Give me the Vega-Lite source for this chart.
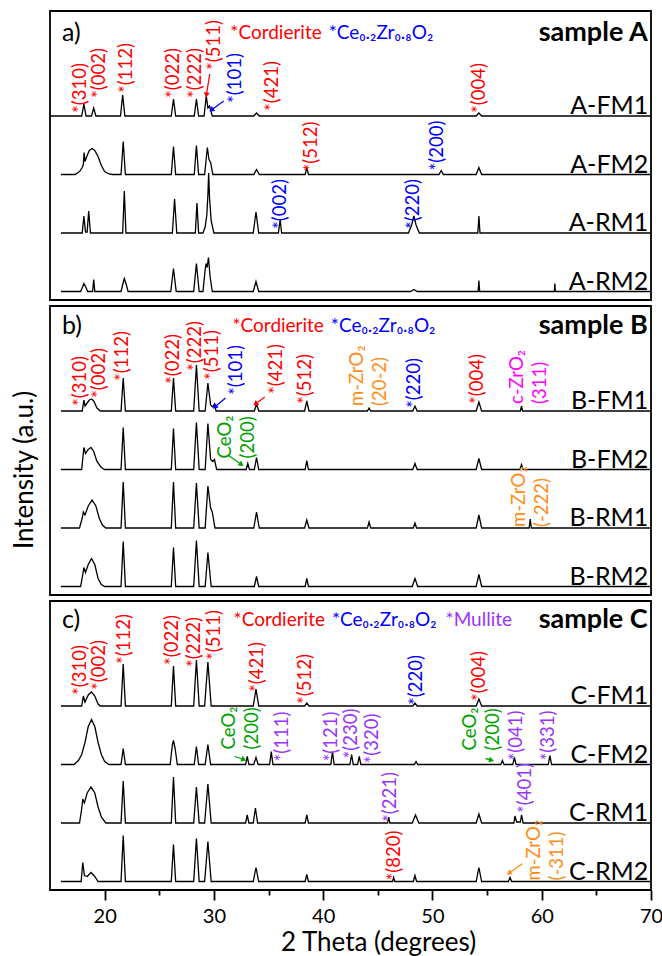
{
"$schema":"https://vega.github.io/schema/vega-lite/v6.json",
"background":"white",
"padding":{"left":10,"top":10,"right":5,"bottom":5},
"config":{"view":{"stroke":"black","strokeWidth":1.8},"font":"Lato"},
"datasets":{
"spectra":[
{"p":"A","r":"FM1","x":15,"i":0},{"p":"A","r":"FM1","x":17.9,"i":0},{"p":"A","r":"FM1","x":18.1,"i":12},{"p":"A","r":"FM1","x":18.3,"i":0},{"p":"A","r":"FM1","x":18.8,"i":0},{"p":"A","r":"FM1","x":19.0,"i":8},{"p":"A","r":"FM1","x":19.2,"i":0},{"p":"A","r":"FM1","x":21.45,"i":0},{"p":"A","r":"FM1","x":21.65,"i":21},{"p":"A","r":"FM1","x":21.85,"i":0},{"p":"A","r":"FM1","x":26.1,"i":0},{"p":"A","r":"FM1","x":26.3,"i":17},{"p":"A","r":"FM1","x":26.5,"i":0},{"p":"A","r":"FM1","x":28.2,"i":0},{"p":"A","r":"FM1","x":28.4,"i":17},{"p":"A","r":"FM1","x":28.6,"i":0},{"p":"A","r":"FM1","x":29.1,"i":0},{"p":"A","r":"FM1","x":29.3,"i":20},{"p":"A","r":"FM1","x":29.45,"i":8},{"p":"A","r":"FM1","x":29.6,"i":10},{"p":"A","r":"FM1","x":29.85,"i":0},{"p":"A","r":"FM1","x":33.65,"i":0},{"p":"A","r":"FM1","x":33.9,"i":3},{"p":"A","r":"FM1","x":34.15,"i":0},{"p":"A","r":"FM1","x":54.0,"i":0},{"p":"A","r":"FM1","x":54.25,"i":3},{"p":"A","r":"FM1","x":54.5,"i":0},{"p":"A","r":"FM1","x":70,"i":0},
{"p":"A","r":"FM2","x":16,"i":0},{"p":"A","r":"FM2","x":17.3,"i":0},{"p":"A","r":"FM2","x":17.7,"i":3},{"p":"A","r":"FM2","x":17.95,"i":7},{"p":"A","r":"FM2","x":18.05,"i":10},{"p":"A","r":"FM2","x":18.12,"i":22},{"p":"A","r":"FM2","x":18.2,"i":13},{"p":"A","r":"FM2","x":18.4,"i":19},{"p":"A","r":"FM2","x":18.6,"i":24},{"p":"A","r":"FM2","x":18.85,"i":26},{"p":"A","r":"FM2","x":19.1,"i":24},{"p":"A","r":"FM2","x":19.4,"i":18},{"p":"A","r":"FM2","x":19.7,"i":9},{"p":"A","r":"FM2","x":20.0,"i":3},{"p":"A","r":"FM2","x":20.4,"i":0.5},{"p":"A","r":"FM2","x":20.7,"i":0},{"p":"A","r":"FM2","x":21.5,"i":0},{"p":"A","r":"FM2","x":21.7,"i":33},{"p":"A","r":"FM2","x":21.9,"i":0},{"p":"A","r":"FM2","x":26.1,"i":0},{"p":"A","r":"FM2","x":26.3,"i":28},{"p":"A","r":"FM2","x":26.5,"i":0},{"p":"A","r":"FM2","x":28.2,"i":0},{"p":"A","r":"FM2","x":28.4,"i":29},{"p":"A","r":"FM2","x":28.6,"i":0},{"p":"A","r":"FM2","x":29.15,"i":0},{"p":"A","r":"FM2","x":29.4,"i":27},{"p":"A","r":"FM2","x":29.55,"i":15},{"p":"A","r":"FM2","x":29.7,"i":12},{"p":"A","r":"FM2","x":29.9,"i":0},{"p":"A","r":"FM2","x":33.65,"i":0},{"p":"A","r":"FM2","x":33.9,"i":5},{"p":"A","r":"FM2","x":34.15,"i":0},{"p":"A","r":"FM2","x":38.35,"i":0},{"p":"A","r":"FM2","x":38.5,"i":7},{"p":"A","r":"FM2","x":38.65,"i":0},{"p":"A","r":"FM2","x":50.6,"i":0},{"p":"A","r":"FM2","x":50.8,"i":4},{"p":"A","r":"FM2","x":51.0,"i":0},{"p":"A","r":"FM2","x":54.0,"i":0},{"p":"A","r":"FM2","x":54.25,"i":7},{"p":"A","r":"FM2","x":54.5,"i":0},{"p":"A","r":"FM2","x":70,"i":0},
{"p":"A","r":"RM1","x":16,"i":0},{"p":"A","r":"RM1","x":17.95,"i":0},{"p":"A","r":"RM1","x":18.1,"i":17},{"p":"A","r":"RM1","x":18.25,"i":1},{"p":"A","r":"RM1","x":18.4,"i":1},{"p":"A","r":"RM1","x":18.54,"i":22},{"p":"A","r":"RM1","x":18.7,"i":0},{"p":"A","r":"RM1","x":21.65,"i":0},{"p":"A","r":"RM1","x":21.8,"i":42},{"p":"A","r":"RM1","x":21.95,"i":0},{"p":"A","r":"RM1","x":26.2,"i":0},{"p":"A","r":"RM1","x":26.4,"i":34},{"p":"A","r":"RM1","x":26.6,"i":0},{"p":"A","r":"RM1","x":28.3,"i":0},{"p":"A","r":"RM1","x":28.45,"i":30},{"p":"A","r":"RM1","x":28.6,"i":0},{"p":"A","r":"RM1","x":29.0,"i":0},{"p":"A","r":"RM1","x":29.2,"i":6},{"p":"A","r":"RM1","x":29.35,"i":18},{"p":"A","r":"RM1","x":29.45,"i":38},{"p":"A","r":"RM1","x":29.52,"i":60},{"p":"A","r":"RM1","x":29.6,"i":35},{"p":"A","r":"RM1","x":29.75,"i":12},{"p":"A","r":"RM1","x":30.0,"i":0},{"p":"A","r":"RM1","x":33.6,"i":0},{"p":"A","r":"RM1","x":33.85,"i":21},{"p":"A","r":"RM1","x":34.1,"i":0},{"p":"A","r":"RM1","x":35.9,"i":0},{"p":"A","r":"RM1","x":36.06,"i":13},{"p":"A","r":"RM1","x":36.2,"i":0},{"p":"A","r":"RM1","x":47.8,"i":0},{"p":"A","r":"RM1","x":48.1,"i":8},{"p":"A","r":"RM1","x":48.3,"i":17},{"p":"A","r":"RM1","x":48.5,"i":8},{"p":"A","r":"RM1","x":48.8,"i":0},{"p":"A","r":"RM1","x":54.15,"i":0},{"p":"A","r":"RM1","x":54.25,"i":17},{"p":"A","r":"RM1","x":54.35,"i":0},{"p":"A","r":"RM1","x":70,"i":0},
{"p":"A","r":"RM2","x":16,"i":0},{"p":"A","r":"RM2","x":17.8,"i":0},{"p":"A","r":"RM2","x":18.0,"i":5},{"p":"A","r":"RM2","x":18.1,"i":8},{"p":"A","r":"RM2","x":18.25,"i":5},{"p":"A","r":"RM2","x":18.45,"i":0},{"p":"A","r":"RM2","x":18.9,"i":0},{"p":"A","r":"RM2","x":19.0,"i":12},{"p":"A","r":"RM2","x":19.1,"i":0},{"p":"A","r":"RM2","x":21.5,"i":0},{"p":"A","r":"RM2","x":21.7,"i":9},{"p":"A","r":"RM2","x":21.8,"i":13},{"p":"A","r":"RM2","x":21.95,"i":8},{"p":"A","r":"RM2","x":22.15,"i":0},{"p":"A","r":"RM2","x":26.05,"i":0},{"p":"A","r":"RM2","x":26.3,"i":23},{"p":"A","r":"RM2","x":26.55,"i":0},{"p":"A","r":"RM2","x":28.15,"i":0},{"p":"A","r":"RM2","x":28.4,"i":28},{"p":"A","r":"RM2","x":28.65,"i":0},{"p":"A","r":"RM2","x":29.0,"i":0},{"p":"A","r":"RM2","x":29.2,"i":22},{"p":"A","r":"RM2","x":29.28,"i":28},{"p":"A","r":"RM2","x":29.38,"i":24},{"p":"A","r":"RM2","x":29.5,"i":34},{"p":"A","r":"RM2","x":29.65,"i":15},{"p":"A","r":"RM2","x":29.85,"i":0},{"p":"A","r":"RM2","x":33.6,"i":0},{"p":"A","r":"RM2","x":33.85,"i":10},{"p":"A","r":"RM2","x":34.1,"i":0},{"p":"A","r":"RM2","x":48.0,"i":0},{"p":"A","r":"RM2","x":48.3,"i":2},{"p":"A","r":"RM2","x":48.6,"i":0},{"p":"A","r":"RM2","x":54.18,"i":0},{"p":"A","r":"RM2","x":54.25,"i":11},{"p":"A","r":"RM2","x":54.32,"i":0},{"p":"A","r":"RM2","x":61.15,"i":0},{"p":"A","r":"RM2","x":61.2,"i":8},{"p":"A","r":"RM2","x":61.25,"i":0},{"p":"A","r":"RM2","x":70,"i":0},
{"p":"B","r":"FM1","x":16,"i":0},{"p":"B","r":"FM1","x":17.95,"i":0},{"p":"B","r":"FM1","x":18.1,"i":11},{"p":"B","r":"FM1","x":18.2,"i":5},{"p":"B","r":"FM1","x":18.4,"i":8},{"p":"B","r":"FM1","x":18.6,"i":11},{"p":"B","r":"FM1","x":18.8,"i":12},{"p":"B","r":"FM1","x":19.0,"i":10},{"p":"B","r":"FM1","x":19.3,"i":3},{"p":"B","r":"FM1","x":19.6,"i":0},{"p":"B","r":"FM1","x":21.5,"i":0},{"p":"B","r":"FM1","x":21.7,"i":33},{"p":"B","r":"FM1","x":21.9,"i":0},{"p":"B","r":"FM1","x":26.1,"i":0},{"p":"B","r":"FM1","x":26.3,"i":33},{"p":"B","r":"FM1","x":26.5,"i":0},{"p":"B","r":"FM1","x":28.15,"i":0},{"p":"B","r":"FM1","x":28.4,"i":46},{"p":"B","r":"FM1","x":28.65,"i":0},{"p":"B","r":"FM1","x":29.2,"i":0},{"p":"B","r":"FM1","x":29.45,"i":28},{"p":"B","r":"FM1","x":29.7,"i":6},{"p":"B","r":"FM1","x":29.9,"i":4},{"p":"B","r":"FM1","x":30.05,"i":7},{"p":"B","r":"FM1","x":30.2,"i":0},{"p":"B","r":"FM1","x":33.7,"i":0},{"p":"B","r":"FM1","x":33.9,"i":7},{"p":"B","r":"FM1","x":34.1,"i":0},{"p":"B","r":"FM1","x":38.3,"i":0},{"p":"B","r":"FM1","x":38.5,"i":10},{"p":"B","r":"FM1","x":38.7,"i":0},{"p":"B","r":"FM1","x":44.05,"i":0},{"p":"B","r":"FM1","x":44.2,"i":3},{"p":"B","r":"FM1","x":44.35,"i":0},{"p":"B","r":"FM1","x":48.2,"i":0},{"p":"B","r":"FM1","x":48.4,"i":5},{"p":"B","r":"FM1","x":48.6,"i":0},{"p":"B","r":"FM1","x":54.0,"i":0},{"p":"B","r":"FM1","x":54.25,"i":9},{"p":"B","r":"FM1","x":54.5,"i":0},{"p":"B","r":"FM1","x":58.05,"i":0},{"p":"B","r":"FM1","x":58.15,"i":5},{"p":"B","r":"FM1","x":58.25,"i":0},{"p":"B","r":"FM1","x":70,"i":0},
{"p":"B","r":"FM2","x":16,"i":0},{"p":"B","r":"FM2","x":17.9,"i":0},{"p":"B","r":"FM2","x":18.1,"i":22},{"p":"B","r":"FM2","x":18.25,"i":16},{"p":"B","r":"FM2","x":18.5,"i":20},{"p":"B","r":"FM2","x":18.75,"i":22},{"p":"B","r":"FM2","x":19.0,"i":18},{"p":"B","r":"FM2","x":19.3,"i":8},{"p":"B","r":"FM2","x":19.7,"i":2},{"p":"B","r":"FM2","x":20.0,"i":0},{"p":"B","r":"FM2","x":21.5,"i":0},{"p":"B","r":"FM2","x":21.7,"i":42},{"p":"B","r":"FM2","x":21.9,"i":0},{"p":"B","r":"FM2","x":26.1,"i":0},{"p":"B","r":"FM2","x":26.3,"i":41},{"p":"B","r":"FM2","x":26.5,"i":0},{"p":"B","r":"FM2","x":28.15,"i":0},{"p":"B","r":"FM2","x":28.4,"i":47},{"p":"B","r":"FM2","x":28.65,"i":0},{"p":"B","r":"FM2","x":29.2,"i":0},{"p":"B","r":"FM2","x":29.45,"i":46},{"p":"B","r":"FM2","x":29.7,"i":10},{"p":"B","r":"FM2","x":29.9,"i":8},{"p":"B","r":"FM2","x":30.05,"i":10},{"p":"B","r":"FM2","x":30.25,"i":0},{"p":"B","r":"FM2","x":32.95,"i":0},{"p":"B","r":"FM2","x":33.1,"i":6},{"p":"B","r":"FM2","x":33.25,"i":0},{"p":"B","r":"FM2","x":33.7,"i":0},{"p":"B","r":"FM2","x":33.9,"i":12},{"p":"B","r":"FM2","x":34.1,"i":0},{"p":"B","r":"FM2","x":38.35,"i":0},{"p":"B","r":"FM2","x":38.5,"i":9},{"p":"B","r":"FM2","x":38.65,"i":0},{"p":"B","r":"FM2","x":48.2,"i":0},{"p":"B","r":"FM2","x":48.4,"i":6},{"p":"B","r":"FM2","x":48.6,"i":0},{"p":"B","r":"FM2","x":54.0,"i":0},{"p":"B","r":"FM2","x":54.25,"i":11},{"p":"B","r":"FM2","x":54.5,"i":0},{"p":"B","r":"FM2","x":58.0,"i":0},{"p":"B","r":"FM2","x":58.15,"i":5},{"p":"B","r":"FM2","x":58.3,"i":0},{"p":"B","r":"FM2","x":70,"i":0},
{"p":"B","r":"RM1","x":16,"i":0},{"p":"B","r":"RM1","x":17.7,"i":0},{"p":"B","r":"RM1","x":17.95,"i":10},{"p":"B","r":"RM1","x":18.05,"i":16},{"p":"B","r":"RM1","x":18.2,"i":13},{"p":"B","r":"RM1","x":18.5,"i":22},{"p":"B","r":"RM1","x":18.85,"i":28},{"p":"B","r":"RM1","x":19.2,"i":22},{"p":"B","r":"RM1","x":19.5,"i":10},{"p":"B","r":"RM1","x":19.8,"i":3},{"p":"B","r":"RM1","x":20.1,"i":0},{"p":"B","r":"RM1","x":21.5,"i":0},{"p":"B","r":"RM1","x":21.7,"i":46},{"p":"B","r":"RM1","x":21.9,"i":0},{"p":"B","r":"RM1","x":26.1,"i":0},{"p":"B","r":"RM1","x":26.3,"i":46},{"p":"B","r":"RM1","x":26.5,"i":0},{"p":"B","r":"RM1","x":28.15,"i":0},{"p":"B","r":"RM1","x":28.4,"i":45},{"p":"B","r":"RM1","x":28.65,"i":0},{"p":"B","r":"RM1","x":29.2,"i":0},{"p":"B","r":"RM1","x":29.45,"i":42},{"p":"B","r":"RM1","x":29.7,"i":20},{"p":"B","r":"RM1","x":29.85,"i":16},{"p":"B","r":"RM1","x":30.1,"i":0},{"p":"B","r":"RM1","x":33.65,"i":0},{"p":"B","r":"RM1","x":33.9,"i":16},{"p":"B","r":"RM1","x":34.15,"i":0},{"p":"B","r":"RM1","x":38.3,"i":0},{"p":"B","r":"RM1","x":38.5,"i":8},{"p":"B","r":"RM1","x":38.7,"i":0},{"p":"B","r":"RM1","x":44.05,"i":0},{"p":"B","r":"RM1","x":44.2,"i":6},{"p":"B","r":"RM1","x":44.35,"i":0},{"p":"B","r":"RM1","x":48.25,"i":0},{"p":"B","r":"RM1","x":48.4,"i":5},{"p":"B","r":"RM1","x":48.55,"i":0},{"p":"B","r":"RM1","x":54.0,"i":0},{"p":"B","r":"RM1","x":54.25,"i":13},{"p":"B","r":"RM1","x":54.5,"i":0},{"p":"B","r":"RM1","x":58.85,"i":0},{"p":"B","r":"RM1","x":58.95,"i":9},{"p":"B","r":"RM1","x":59.05,"i":0},{"p":"B","r":"RM1","x":70,"i":0},
{"p":"B","r":"RM2","x":16,"i":0},{"p":"B","r":"RM2","x":17.8,"i":0},{"p":"B","r":"RM2","x":18.0,"i":12},{"p":"B","r":"RM2","x":18.1,"i":19},{"p":"B","r":"RM2","x":18.25,"i":14},{"p":"B","r":"RM2","x":18.5,"i":22},{"p":"B","r":"RM2","x":18.8,"i":28},{"p":"B","r":"RM2","x":19.1,"i":22},{"p":"B","r":"RM2","x":19.4,"i":8},{"p":"B","r":"RM2","x":19.7,"i":2},{"p":"B","r":"RM2","x":20.0,"i":0},{"p":"B","r":"RM2","x":21.5,"i":0},{"p":"B","r":"RM2","x":21.7,"i":45},{"p":"B","r":"RM2","x":21.9,"i":0},{"p":"B","r":"RM2","x":26.1,"i":0},{"p":"B","r":"RM2","x":26.3,"i":39},{"p":"B","r":"RM2","x":26.5,"i":0},{"p":"B","r":"RM2","x":28.15,"i":0},{"p":"B","r":"RM2","x":28.4,"i":46},{"p":"B","r":"RM2","x":28.65,"i":0},{"p":"B","r":"RM2","x":29.2,"i":0},{"p":"B","r":"RM2","x":29.45,"i":34},{"p":"B","r":"RM2","x":29.75,"i":0},{"p":"B","r":"RM2","x":33.7,"i":0},{"p":"B","r":"RM2","x":33.9,"i":10},{"p":"B","r":"RM2","x":34.1,"i":0},{"p":"B","r":"RM2","x":38.35,"i":0},{"p":"B","r":"RM2","x":38.5,"i":8},{"p":"B","r":"RM2","x":38.65,"i":0},{"p":"B","r":"RM2","x":48.15,"i":0},{"p":"B","r":"RM2","x":48.4,"i":8},{"p":"B","r":"RM2","x":48.65,"i":0},{"p":"B","r":"RM2","x":54.0,"i":0},{"p":"B","r":"RM2","x":54.25,"i":12},{"p":"B","r":"RM2","x":54.5,"i":0},{"p":"B","r":"RM2","x":70,"i":0},
{"p":"C","r":"FM1","x":16,"i":0},{"p":"C","r":"FM1","x":17.9,"i":0},{"p":"C","r":"FM1","x":18.05,"i":10},{"p":"C","r":"FM1","x":18.2,"i":4},{"p":"C","r":"FM1","x":18.5,"i":11},{"p":"C","r":"FM1","x":18.8,"i":14},{"p":"C","r":"FM1","x":19.1,"i":10},{"p":"C","r":"FM1","x":19.4,"i":2},{"p":"C","r":"FM1","x":19.6,"i":0},{"p":"C","r":"FM1","x":21.5,"i":0},{"p":"C","r":"FM1","x":21.7,"i":42},{"p":"C","r":"FM1","x":21.9,"i":0},{"p":"C","r":"FM1","x":26.1,"i":0},{"p":"C","r":"FM1","x":26.3,"i":40},{"p":"C","r":"FM1","x":26.5,"i":0},{"p":"C","r":"FM1","x":28.15,"i":0},{"p":"C","r":"FM1","x":28.4,"i":46},{"p":"C","r":"FM1","x":28.65,"i":0},{"p":"C","r":"FM1","x":29.15,"i":0},{"p":"C","r":"FM1","x":29.45,"i":44},{"p":"C","r":"FM1","x":29.75,"i":0},{"p":"C","r":"FM1","x":33.6,"i":0},{"p":"C","r":"FM1","x":33.85,"i":17},{"p":"C","r":"FM1","x":34.1,"i":0},{"p":"C","r":"FM1","x":38.3,"i":0},{"p":"C","r":"FM1","x":38.5,"i":3},{"p":"C","r":"FM1","x":38.7,"i":0},{"p":"C","r":"FM1","x":48.2,"i":0},{"p":"C","r":"FM1","x":48.4,"i":3},{"p":"C","r":"FM1","x":48.6,"i":0},{"p":"C","r":"FM1","x":54.0,"i":0},{"p":"C","r":"FM1","x":54.25,"i":7},{"p":"C","r":"FM1","x":54.5,"i":0},{"p":"C","r":"FM1","x":70,"i":0},
{"p":"C","r":"FM2","x":16,"i":0},{"p":"C","r":"FM2","x":17.2,"i":0},{"p":"C","r":"FM2","x":17.6,"i":4},{"p":"C","r":"FM2","x":17.9,"i":10},{"p":"C","r":"FM2","x":18.2,"i":22},{"p":"C","r":"FM2","x":18.5,"i":38},{"p":"C","r":"FM2","x":18.8,"i":45},{"p":"C","r":"FM2","x":19.1,"i":38},{"p":"C","r":"FM2","x":19.4,"i":22},{"p":"C","r":"FM2","x":19.7,"i":10},{"p":"C","r":"FM2","x":20.0,"i":3},{"p":"C","r":"FM2","x":20.4,"i":0},{"p":"C","r":"FM2","x":21.5,"i":0},{"p":"C","r":"FM2","x":21.7,"i":16},{"p":"C","r":"FM2","x":21.9,"i":0},{"p":"C","r":"FM2","x":26.0,"i":0},{"p":"C","r":"FM2","x":26.2,"i":20},{"p":"C","r":"FM2","x":26.3,"i":24},{"p":"C","r":"FM2","x":26.45,"i":16},{"p":"C","r":"FM2","x":26.65,"i":0},{"p":"C","r":"FM2","x":28.2,"i":0},{"p":"C","r":"FM2","x":28.4,"i":18},{"p":"C","r":"FM2","x":28.6,"i":0},{"p":"C","r":"FM2","x":29.2,"i":0},{"p":"C","r":"FM2","x":29.45,"i":20},{"p":"C","r":"FM2","x":29.7,"i":0},{"p":"C","r":"FM2","x":32.9,"i":0},{"p":"C","r":"FM2","x":33.05,"i":8},{"p":"C","r":"FM2","x":33.2,"i":0},{"p":"C","r":"FM2","x":33.65,"i":0},{"p":"C","r":"FM2","x":33.85,"i":7},{"p":"C","r":"FM2","x":34.05,"i":0},{"p":"C","r":"FM2","x":35.1,"i":0},{"p":"C","r":"FM2","x":35.25,"i":13},{"p":"C","r":"FM2","x":35.4,"i":0},{"p":"C","r":"FM2","x":40.7,"i":0},{"p":"C","r":"FM2","x":40.85,"i":13},{"p":"C","r":"FM2","x":41.0,"i":0},{"p":"C","r":"FM2","x":42.45,"i":0},{"p":"C","r":"FM2","x":42.6,"i":10},{"p":"C","r":"FM2","x":42.75,"i":0},{"p":"C","r":"FM2","x":43.15,"i":0},{"p":"C","r":"FM2","x":43.3,"i":8},{"p":"C","r":"FM2","x":43.45,"i":0},{"p":"C","r":"FM2","x":48.35,"i":0},{"p":"C","r":"FM2","x":48.5,"i":3},{"p":"C","r":"FM2","x":48.65,"i":0},{"p":"C","r":"FM2","x":56.25,"i":0},{"p":"C","r":"FM2","x":56.4,"i":4},{"p":"C","r":"FM2","x":56.55,"i":0},{"p":"C","r":"FM2","x":57.35,"i":0},{"p":"C","r":"FM2","x":57.5,"i":7},{"p":"C","r":"FM2","x":57.65,"i":0},{"p":"C","r":"FM2","x":60.6,"i":0},{"p":"C","r":"FM2","x":60.75,"i":9},{"p":"C","r":"FM2","x":60.9,"i":0},{"p":"C","r":"FM2","x":70,"i":0},
{"p":"C","r":"RM1","x":16,"i":0},{"p":"C","r":"RM1","x":17.7,"i":0},{"p":"C","r":"RM1","x":17.9,"i":14},{"p":"C","r":"RM1","x":18.0,"i":24},{"p":"C","r":"RM1","x":18.15,"i":20},{"p":"C","r":"RM1","x":18.4,"i":30},{"p":"C","r":"RM1","x":18.75,"i":36},{"p":"C","r":"RM1","x":19.1,"i":30},{"p":"C","r":"RM1","x":19.4,"i":16},{"p":"C","r":"RM1","x":19.7,"i":6},{"p":"C","r":"RM1","x":20.1,"i":0},{"p":"C","r":"RM1","x":21.5,"i":0},{"p":"C","r":"RM1","x":21.7,"i":42},{"p":"C","r":"RM1","x":21.9,"i":0},{"p":"C","r":"RM1","x":26.1,"i":0},{"p":"C","r":"RM1","x":26.3,"i":46},{"p":"C","r":"RM1","x":26.5,"i":0},{"p":"C","r":"RM1","x":28.15,"i":0},{"p":"C","r":"RM1","x":28.4,"i":36},{"p":"C","r":"RM1","x":28.65,"i":0},{"p":"C","r":"RM1","x":29.15,"i":0},{"p":"C","r":"RM1","x":29.45,"i":39},{"p":"C","r":"RM1","x":29.75,"i":0},{"p":"C","r":"RM1","x":32.9,"i":0},{"p":"C","r":"RM1","x":33.05,"i":8},{"p":"C","r":"RM1","x":33.2,"i":0},{"p":"C","r":"RM1","x":33.6,"i":0},{"p":"C","r":"RM1","x":33.8,"i":15},{"p":"C","r":"RM1","x":34.0,"i":0},{"p":"C","r":"RM1","x":38.35,"i":0},{"p":"C","r":"RM1","x":38.5,"i":8},{"p":"C","r":"RM1","x":38.65,"i":0},{"p":"C","r":"RM1","x":45.9,"i":0},{"p":"C","r":"RM1","x":46.0,"i":6},{"p":"C","r":"RM1","x":46.1,"i":0},{"p":"C","r":"RM1","x":48.15,"i":0},{"p":"C","r":"RM1","x":48.45,"i":8},{"p":"C","r":"RM1","x":48.75,"i":0},{"p":"C","r":"RM1","x":54.0,"i":0},{"p":"C","r":"RM1","x":54.25,"i":9},{"p":"C","r":"RM1","x":54.5,"i":0},{"p":"C","r":"RM1","x":57.45,"i":0},{"p":"C","r":"RM1","x":57.55,"i":7},{"p":"C","r":"RM1","x":57.7,"i":1},{"p":"C","r":"RM1","x":58.05,"i":1},{"p":"C","r":"RM1","x":58.15,"i":8},{"p":"C","r":"RM1","x":58.3,"i":0},{"p":"C","r":"RM1","x":70,"i":0},
{"p":"C","r":"RM2","x":16,"i":0},{"p":"C","r":"RM2","x":17.85,"i":0},{"p":"C","r":"RM2","x":18.0,"i":19},{"p":"C","r":"RM2","x":18.15,"i":6},{"p":"C","r":"RM2","x":18.4,"i":5},{"p":"C","r":"RM2","x":18.75,"i":9},{"p":"C","r":"RM2","x":19.1,"i":5},{"p":"C","r":"RM2","x":19.4,"i":0},{"p":"C","r":"RM2","x":21.5,"i":0},{"p":"C","r":"RM2","x":21.7,"i":46},{"p":"C","r":"RM2","x":21.9,"i":0},{"p":"C","r":"RM2","x":26.1,"i":0},{"p":"C","r":"RM2","x":26.3,"i":37},{"p":"C","r":"RM2","x":26.5,"i":0},{"p":"C","r":"RM2","x":28.15,"i":0},{"p":"C","r":"RM2","x":28.4,"i":43},{"p":"C","r":"RM2","x":28.65,"i":0},{"p":"C","r":"RM2","x":29.15,"i":0},{"p":"C","r":"RM2","x":29.45,"i":40},{"p":"C","r":"RM2","x":29.75,"i":0},{"p":"C","r":"RM2","x":33.6,"i":0},{"p":"C","r":"RM2","x":33.85,"i":14},{"p":"C","r":"RM2","x":34.1,"i":0},{"p":"C","r":"RM2","x":38.35,"i":0},{"p":"C","r":"RM2","x":38.5,"i":7},{"p":"C","r":"RM2","x":38.65,"i":0},{"p":"C","r":"RM2","x":46.35,"i":0},{"p":"C","r":"RM2","x":46.45,"i":4},{"p":"C","r":"RM2","x":46.55,"i":0},{"p":"C","r":"RM2","x":48.25,"i":0},{"p":"C","r":"RM2","x":48.4,"i":6},{"p":"C","r":"RM2","x":48.55,"i":0},{"p":"C","r":"RM2","x":54.0,"i":0},{"p":"C","r":"RM2","x":54.25,"i":14},{"p":"C","r":"RM2","x":54.5,"i":0},{"p":"C","r":"RM2","x":56.95,"i":0},{"p":"C","r":"RM2","x":57.1,"i":4},{"p":"C","r":"RM2","x":57.25,"i":0},{"p":"C","r":"RM2","x":70,"i":0}
],
"labels":[
{"p":"A","r":"FM1","x":17.7,"i":3,"t":"*(310)","c":"Cordierite"},
{"p":"A","r":"FM1","x":19.5,"i":18,"t":"*(002)","c":"Cordierite"},
{"p":"A","r":"FM1","x":21.96,"i":23,"t":"*(112)","c":"Cordierite"},
{"p":"A","r":"FM1","x":26.26,"i":18,"t":"*(022)","c":"Cordierite"},
{"p":"A","r":"FM1","x":28.25,"i":18,"t":"*(222)","c":"Cordierite"},
{"p":"A","r":"FM1","x":29.99,"i":46,"t":"*(511)","c":"Cordierite"},
{"p":"A","r":"FM1","x":31.97,"i":13,"t":"*(101)","c":"CeZr"},
{"p":"A","r":"FM1","x":35.33,"i":5,"t":"*(421)","c":"Cordierite"},
{"p":"A","r":"FM1","x":54.26,"i":3,"t":"*(004)","c":"Cordierite"},
{"p":"A","r":"FM2","x":38.9,"i":3,"t":"*(512)","c":"Cordierite"},
{"p":"A","r":"FM2","x":50.44,"i":4,"t":"*(200)","c":"CeZr"},
{"p":"A","r":"RM1","x":36.09,"i":4,"t":"*(002)","c":"CeZr"},
{"p":"A","r":"RM1","x":48.21,"i":4,"t":"*(220)","c":"CeZr"},
{"p":"B","r":"FM1","x":17.7,"i":5,"t":"*(310)","c":"Cordierite"},
{"p":"B","r":"FM1","x":19.45,"i":13,"t":"*(002)","c":"Cordierite"},
{"p":"B","r":"FM1","x":21.6,"i":30,"t":"*(112)","c":"Cordierite"},
{"p":"B","r":"FM1","x":26.26,"i":27,"t":"*(022)","c":"Cordierite"},
{"p":"B","r":"FM1","x":28.25,"i":40,"t":"*(222)","c":"Cordierite"},
{"p":"B","r":"FM1","x":29.84,"i":31,"t":"*(511)","c":"Cordierite"},
{"p":"B","r":"FM1","x":32.06,"i":16,"t":"*(101)","c":"CeZr"},
{"p":"B","r":"FM1","x":35.72,"i":17,"t":"*(421)","c":"Cordierite"},
{"p":"B","r":"FM1","x":38.38,"i":7,"t":"*(512)","c":"Cordierite"},
{"p":"B","r":"FM1","x":43.13,"i":5,"t":"m-ZrO₂\n(20-2)","c":"mZrO2"},
{"p":"B","r":"FM1","x":48.3,"i":3,"t":"*(220)","c":"CeZr"},
{"p":"B","r":"FM1","x":54.1,"i":7,"t":"*(004)","c":"Cordierite"},
{"p":"B","r":"FM1","x":57.7,"i":7,"t":"c-ZrO₂\n(311)","c":"cZrO2"},
{"p":"B","r":"FM2","x":30.98,"i":11,"t":"CeO₂\n(200)","c":"CeO2"},
{"p":"B","r":"RM1","x":57.88,"i":1,"t":"m-ZrO₂\n(-222)","c":"mZrO2"},
{"p":"C","r":"FM1","x":17.7,"i":11,"t":"*(310)","c":"Cordierite"},
{"p":"C","r":"FM1","x":19.45,"i":16,"t":"*(002)","c":"Cordierite"},
{"p":"C","r":"FM1","x":21.75,"i":42,"t":"*(112)","c":"Cordierite"},
{"p":"C","r":"FM1","x":26.17,"i":41,"t":"*(022)","c":"Cordierite"},
{"p":"C","r":"FM1","x":28.16,"i":39,"t":"*(222)","c":"Cordierite"},
{"p":"C","r":"FM1","x":29.99,"i":46,"t":"*(511)","c":"Cordierite"},
{"p":"C","r":"FM1","x":33.9,"i":14,"t":"*(421)","c":"Cordierite"},
{"p":"C","r":"FM1","x":38.38,"i":2,"t":"*(512)","c":"Cordierite"},
{"p":"C","r":"FM1","x":48.46,"i":1,"t":"*(220)","c":"CeZr"},
{"p":"C","r":"FM1","x":54.26,"i":5,"t":"*(004)","c":"Cordierite"},
{"p":"C","r":"FM2","x":31.35,"i":15,"t":"CeO₂\n(200)","c":"CeO2"},
{"p":"C","r":"FM2","x":36.25,"i":3,"t":"*(111)","c":"Mullite"},
{"p":"C","r":"FM2","x":40.76,"i":3,"t":"*(121)","c":"Mullite"},
{"p":"C","r":"FM2","x":42.5,"i":6,"t":"*(230)","c":"Mullite"},
{"p":"C","r":"FM2","x":44.49,"i":1,"t":"*(320)","c":"Mullite"},
{"p":"C","r":"FM2","x":53.46,"i":14,"t":"CeO₂\n(200)","c":"CeO2"},
{"p":"C","r":"FM2","x":57.6,"i":4,"t":"*(041)","c":"Mullite"},
{"p":"C","r":"FM2","x":60.6,"i":4,"t":"*(331)","c":"Mullite"},
{"p":"C","r":"RM1","x":46.07,"i":1,"t":"*(221)","c":"Mullite"},
{"p":"C","r":"RM1","x":58.47,"i":10,"t":"*(401)","c":"Mullite"},
{"p":"C","r":"RM2","x":46.47,"i":1,"t":"*(820)","c":"Cordierite"},
{"p":"C","r":"RM2","x":59.25,"i":1,"t":"m-ZrO₂\n(-311)","c":"mZrO2"}
],
"arrows":[
{"a":1,"p":"A","r":"FM1","x":29.62,"i":42,"c":"Cordierite"},{"a":1,"p":"A","r":"FM1","x":29.31,"i":21,"c":"Cordierite","ang":189},
{"a":2,"p":"A","r":"FM1","x":30.9,"i":15,"c":"CeZr"},{"a":2,"p":"A","r":"FM1","x":29.77,"i":6,"c":"CeZr","ang":234},
{"a":3,"p":"B","r":"FM1","x":31.06,"i":13,"c":"CeZr"},{"a":3,"p":"B","r":"FM1","x":30.08,"i":4,"c":"CeZr","ang":230},
{"a":4,"p":"B","r":"FM1","x":34.66,"i":14,"c":"Cordierite"},{"a":4,"p":"B","r":"FM1","x":33.8,"i":7,"c":"Cordierite","ang":233},
{"a":5,"p":"B","r":"FM2","x":31.36,"i":14,"c":"CeO2"},{"a":5,"p":"B","r":"FM2","x":32.52,"i":5,"c":"CeO2","ang":126},
{"a":6,"p":"C","r":"FM2","x":31.91,"i":8,"c":"CeO2"},{"a":6,"p":"C","r":"FM2","x":32.74,"i":5,"c":"CeO2","ang":110},
{"a":7,"p":"C","r":"FM2","x":54.86,"i":6,"c":"CeO2"},{"a":7,"p":"C","r":"FM2","x":55.41,"i":4.3,"c":"CeO2","ang":106},
{"a":8,"p":"C","r":"RM2","x":58.22,"i":17.7,"c":"mZrO2"},{"a":8,"p":"C","r":"RM2","x":57.0,"i":8.3,"c":"mZrO2","ang":235}
],
"keys":[
{"p":"A","r":"FM1","x":31.5,"i":83,"t":"*Cordierite","c":"Cordierite"},
{"p":"A","r":"FM1","x":40.5,"i":83,"t":"*Ce₀.₂Zr₀.₈O₂","c":"CeZr"},
{"p":"B","r":"FM1","x":31.7,"i":85,"t":"*Cordierite","c":"Cordierite"},
{"p":"B","r":"FM1","x":40.7,"i":85,"t":"*Ce₀.₂Zr₀.₈O₂","c":"CeZr"},
{"p":"C","r":"FM1","x":31.8,"i":86,"t":"*Cordierite","c":"Cordierite"},
{"p":"C","r":"FM1","x":40.8,"i":86,"t":"*Ce₀.₂Zr₀.₈O₂","c":"CeZr"},
{"p":"C","r":"FM1","x":51.2,"i":86,"t":"*Mullite","c":"Mullite"}
],
"tags":[
{"p":"A","r":"FM1","x":16.1,"i":83,"t":"a)"},
{"p":"B","r":"FM1","x":16.1,"i":85,"t":"b)"},
{"p":"C","r":"FM1","x":16.1,"i":86,"t":"c)"}
],
"titles":[
{"p":"A","r":"FM1","x":69.7,"i":83,"t":"sample A"},
{"p":"B","r":"FM1","x":69.7,"i":85,"t":"sample B"},
{"p":"C","r":"FM1","x":69.7,"i":86,"t":"sample C"}
],
"names":[
{"p":"A","r":"FM1","x":69.75,"i":2,"t":"A-FM1"},{"p":"A","r":"FM2","x":69.75,"i":2,"t":"A-FM2"},{"p":"A","r":"RM1","x":69.75,"i":2,"t":"A-RM1"},{"p":"A","r":"RM2","x":69.75,"i":2,"t":"A-RM2"},
{"p":"B","r":"FM1","x":69.75,"i":2,"t":"B-FM1"},{"p":"B","r":"FM2","x":69.75,"i":2,"t":"B-FM2"},{"p":"B","r":"RM1","x":69.75,"i":2,"t":"B-RM1"},{"p":"B","r":"RM2","x":69.75,"i":2,"t":"B-RM2"},
{"p":"C","r":"FM1","x":69.75,"i":2,"t":"C-FM1"},{"p":"C","r":"FM2","x":69.75,"i":2,"t":"C-FM2"},{"p":"C","r":"RM1","x":69.75,"i":2,"t":"C-RM1"},{"p":"C","r":"RM2","x":69.75,"i":2,"t":"C-RM2"}
]
},
"spacing":4,
"vconcat":[
{
"width":601,"height":289,
"encoding":{
"x":{"field":"x","type":"quantitative","scale":{"domain":[15,70],"nice":false,"zero":false},"axis":null},
"y":{"field":"r","type":"nominal","scale":{"type":"band","domain":["FM1","FM2","RM1","RM2"],"range":[46.5,280.5],"paddingInner":0,"paddingOuter":0},"axis":null},
"yOffset":{"field":"i","type":"quantitative","scale":{"type":"linear","domain":[0,100],"range":[58.5,-41.5],"nice":false,"zero":false}}
},
"layer":[
{"data":{"name":"spectra"},"transform":[{"filter":{"field":"p","equal":"A"}}],"mark":{"type":"line","color":"#000","strokeWidth":1.3},"encoding":{"detail":{"field":"r"},"order":{"field":"x","type":"quantitative"}}},
{"data":{"name":"arrows"},"transform":[{"filter":{"field":"p","equal":"A"}}],"mark":{"type":"line","strokeWidth":1.3},"encoding":{"detail":{"field":"a"},"color":{"field":"c","type":"nominal","scale":{"domain":["Cordierite","CeZr","Mullite","CeO2","mZrO2","cZrO2"],"range":["#ff0000","#0000ff","#9933ff","#00a000","#ff8c1a","#ff00ff"]},"legend":null}}},
{"data":{"name":"arrows"},"transform":[{"filter":{"field":"p","equal":"A"}},{"filter":"isValid(datum.ang)"}],"mark":{"type":"point","shape":"triangle-up","filled":true,"size":35,"opacity":1},"encoding":{"angle":{"field":"ang","type":"quantitative","scale":null},"color":{"field":"c","type":"nominal","legend":null}}},
{"data":{"name":"labels"},"transform":[{"filter":{"field":"p","equal":"A"}}],"mark":{"type":"text","angle":270,"align":"left","baseline":"middle","font":"Lato","fontSize":18.5,"lineBreak":"\n","lineHeight":23},"encoding":{"text":{"field":"t"},"color":{"field":"c","type":"nominal","legend":null}}},
{"data":{"name":"keys"},"transform":[{"filter":{"field":"p","equal":"A"}}],"mark":{"type":"text","align":"left","baseline":"middle","font":"Lato","fontSize":19},"encoding":{"text":{"field":"t"},"color":{"field":"c","type":"nominal","legend":null}}},
{"data":{"name":"tags"},"transform":[{"filter":{"field":"p","equal":"A"}}],"mark":{"type":"text","align":"left","baseline":"middle","font":"Lato","fontSize":25,"color":"black"},"encoding":{"text":{"field":"t"}}},
{"data":{"name":"titles"},"transform":[{"filter":{"field":"p","equal":"A"}}],"mark":{"type":"text","align":"right","baseline":"middle","font":"Lato","fontSize":27,"fontWeight":"bold","color":"black"},"encoding":{"text":{"field":"t"}}},
{"data":{"name":"names"},"transform":[{"filter":{"field":"p","equal":"A"}}],"mark":{"type":"text","align":"right","baseline":"alphabetic","font":"Lato","fontSize":25,"color":"black"},"encoding":{"text":{"field":"t"}}}
]
},
{
"width":601,"height":289,
"encoding":{
"x":{"field":"x","type":"quantitative","scale":{"domain":[15,70],"nice":false,"zero":false},"axis":null},
"y":{"field":"r","type":"nominal","scale":{"type":"band","domain":["FM1","FM2","RM1","RM2"],"range":[46.5,280.5],"paddingInner":0,"paddingOuter":0},"axis":{"title":"Intensity (a.u.)","labels":false,"ticks":false,"domain":false,"grid":false,"titleFont":"Lato","titleFontSize":26,"titleFontWeight":"normal","titleColor":"black","titlePadding":13}},
"yOffset":{"field":"i","type":"quantitative","scale":{"type":"linear","domain":[0,100],"range":[58.5,-41.5],"nice":false,"zero":false}}
},
"layer":[
{"data":{"name":"spectra"},"transform":[{"filter":{"field":"p","equal":"B"}}],"mark":{"type":"line","color":"#000","strokeWidth":1.3},"encoding":{"detail":{"field":"r"},"order":{"field":"x","type":"quantitative"}}},
{"data":{"name":"arrows"},"transform":[{"filter":{"field":"p","equal":"B"}}],"mark":{"type":"line","strokeWidth":1.3},"encoding":{"detail":{"field":"a"},"color":{"field":"c","type":"nominal","scale":{"domain":["Cordierite","CeZr","Mullite","CeO2","mZrO2","cZrO2"],"range":["#ff0000","#0000ff","#9933ff","#00a000","#ff8c1a","#ff00ff"]},"legend":null}}},
{"data":{"name":"arrows"},"transform":[{"filter":{"field":"p","equal":"B"}},{"filter":"isValid(datum.ang)"}],"mark":{"type":"point","shape":"triangle-up","filled":true,"size":35,"opacity":1},"encoding":{"angle":{"field":"ang","type":"quantitative","scale":null},"color":{"field":"c","type":"nominal","legend":null}}},
{"data":{"name":"labels"},"transform":[{"filter":{"field":"p","equal":"B"}}],"mark":{"type":"text","angle":270,"align":"left","baseline":"middle","font":"Lato","fontSize":18.5,"lineBreak":"\n","lineHeight":23},"encoding":{"text":{"field":"t"},"color":{"field":"c","type":"nominal","legend":null}}},
{"data":{"name":"keys"},"transform":[{"filter":{"field":"p","equal":"B"}}],"mark":{"type":"text","align":"left","baseline":"middle","font":"Lato","fontSize":19},"encoding":{"text":{"field":"t"},"color":{"field":"c","type":"nominal","legend":null}}},
{"data":{"name":"tags"},"transform":[{"filter":{"field":"p","equal":"B"}}],"mark":{"type":"text","align":"left","baseline":"middle","font":"Lato","fontSize":25,"color":"black"},"encoding":{"text":{"field":"t"}}},
{"data":{"name":"titles"},"transform":[{"filter":{"field":"p","equal":"B"}}],"mark":{"type":"text","align":"right","baseline":"middle","font":"Lato","fontSize":27,"fontWeight":"bold","color":"black"},"encoding":{"text":{"field":"t"}}},
{"data":{"name":"names"},"transform":[{"filter":{"field":"p","equal":"B"}}],"mark":{"type":"text","align":"right","baseline":"alphabetic","font":"Lato","fontSize":25,"color":"black"},"encoding":{"text":{"field":"t"}}}
]
},
{
"width":601,"height":289,
"encoding":{
"x":{"field":"x","type":"quantitative","scale":{"domain":[15,70],"nice":false,"zero":false},"axis":{"values":[20,25,30,35,40,45,50,55,60,65,70],"labelExpr":"datum.value % 10 === 0 ? datum.label : ''","tickSize":{"condition":{"test":"datum.value % 10 === 0","value":10},"value":5},"tickColor":"black","tickWidth":1.8,"domain":false,"grid":false,"labelFont":"Lato","labelFontSize":20,"labelColor":"black","labelPadding":6,"labelFlush":false,"labelOverlap":false,"title":"2 Theta (degrees)","titleFont":"Lato","titleFontSize":26,"titleFontWeight":"normal","titleColor":"black","titlePadding":3,"titleX":328}},
"y":{"field":"r","type":"nominal","scale":{"type":"band","domain":["FM1","FM2","RM1","RM2"],"range":[46.5,280.5],"paddingInner":0,"paddingOuter":0},"axis":null},
"yOffset":{"field":"i","type":"quantitative","scale":{"type":"linear","domain":[0,100],"range":[58.5,-41.5],"nice":false,"zero":false}}
},
"layer":[
{"data":{"name":"spectra"},"transform":[{"filter":{"field":"p","equal":"C"}}],"mark":{"type":"line","color":"#000","strokeWidth":1.3},"encoding":{"detail":{"field":"r"},"order":{"field":"x","type":"quantitative"}}},
{"data":{"name":"arrows"},"transform":[{"filter":{"field":"p","equal":"C"}}],"mark":{"type":"line","strokeWidth":1.3},"encoding":{"detail":{"field":"a"},"color":{"field":"c","type":"nominal","scale":{"domain":["Cordierite","CeZr","Mullite","CeO2","mZrO2","cZrO2"],"range":["#ff0000","#0000ff","#9933ff","#00a000","#ff8c1a","#ff00ff"]},"legend":null}}},
{"data":{"name":"arrows"},"transform":[{"filter":{"field":"p","equal":"C"}},{"filter":"isValid(datum.ang)"}],"mark":{"type":"point","shape":"triangle-up","filled":true,"size":35,"opacity":1},"encoding":{"angle":{"field":"ang","type":"quantitative","scale":null},"color":{"field":"c","type":"nominal","legend":null}}},
{"data":{"name":"labels"},"transform":[{"filter":{"field":"p","equal":"C"}}],"mark":{"type":"text","angle":270,"align":"left","baseline":"middle","font":"Lato","fontSize":18.5,"lineBreak":"\n","lineHeight":23},"encoding":{"text":{"field":"t"},"color":{"field":"c","type":"nominal","legend":null}}},
{"data":{"name":"keys"},"transform":[{"filter":{"field":"p","equal":"C"}}],"mark":{"type":"text","align":"left","baseline":"middle","font":"Lato","fontSize":19},"encoding":{"text":{"field":"t"},"color":{"field":"c","type":"nominal","legend":null}}},
{"data":{"name":"tags"},"transform":[{"filter":{"field":"p","equal":"C"}}],"mark":{"type":"text","align":"left","baseline":"middle","font":"Lato","fontSize":25,"color":"black"},"encoding":{"text":{"field":"t"}}},
{"data":{"name":"titles"},"transform":[{"filter":{"field":"p","equal":"C"}}],"mark":{"type":"text","align":"right","baseline":"middle","font":"Lato","fontSize":27,"fontWeight":"bold","color":"black"},"encoding":{"text":{"field":"t"}}},
{"data":{"name":"names"},"transform":[{"filter":{"field":"p","equal":"C"}}],"mark":{"type":"text","align":"right","baseline":"alphabetic","font":"Lato","fontSize":25,"color":"black"},"encoding":{"text":{"field":"t"}}}
]
}
]
}
